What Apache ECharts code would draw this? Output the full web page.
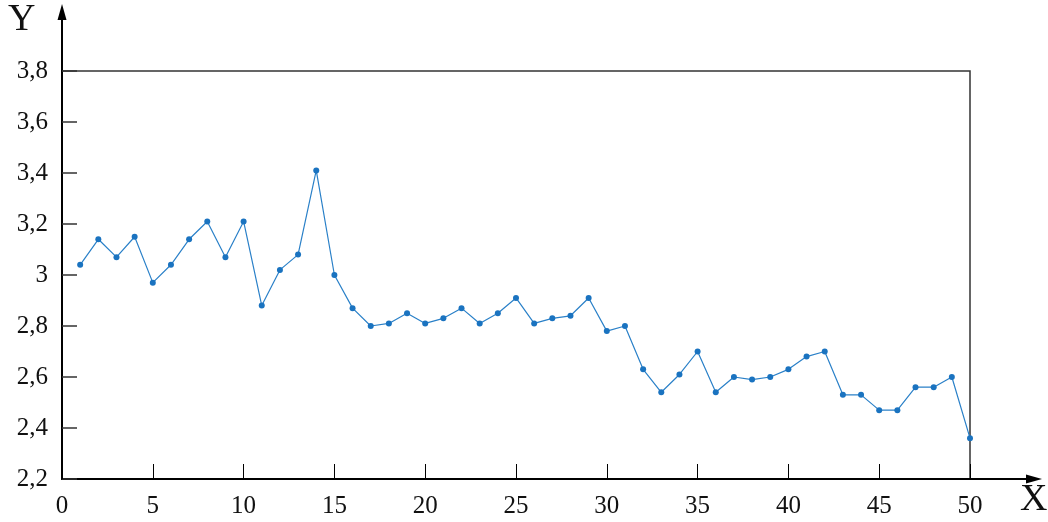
<!DOCTYPE html>
<html>
<head>
<meta charset="utf-8">
<script src="https://cdn.jsdelivr.net/npm/echarts@6/dist/echarts.min.js"></script>
<style>
  html, body { margin: 0; padding: 0; background: #fff; }
  #chart { width: 1048px; height: 522px; }
</style>
</head>
<body>
<div id="chart"></div>
<script>
// Measured values, x = 1..50
const xValues = [1,2,3,4,5,6,7,8,9,10,11,12,13,14,15,16,17,18,19,20,21,22,23,24,25,
                 26,27,28,29,30,31,32,33,34,35,36,37,38,39,40,41,42,43,44,45,46,47,48,49,50];
const yValues = [3.04,3.14,3.07,3.15,2.97,3.04,3.14,3.21,3.07,3.21,
                 2.88,3.02,3.08,3.41,3.00,2.87,2.80,2.81,2.85,2.81,
                 2.83,2.87,2.81,2.85,2.91,2.81,2.83,2.84,2.91,2.78,
                 2.80,2.63,2.54,2.61,2.70,2.54,2.60,2.59,2.60,2.63,
                 2.68,2.70,2.53,2.53,2.47,2.47,2.56,2.56,2.60,2.36];
const xTicks = [0,5,10,15,20,25,30,35,40,45,50];
const yTicks = [2.2,2.4,2.6,2.8,3.0,3.2,3.4,3.6,3.8];

const FONT = 'Liberation Serif';
const fmtY = v => {
  const r = Math.round(v * 10) / 10;
  return Number.isInteger(r) ? String(r) : r.toFixed(1).replace('.', ',');
};

const chart = echarts.init(document.getElementById('chart'), null, { renderer: 'canvas' });

chart.setOption({
  animation: false,
  grid: {
    left: 62, right: 78, top: 71, bottom: 43,
    show: true, borderColor: '#333', borderWidth: 1.5, backgroundColor: 'transparent'
  },
  xAxis: {
    type: 'value', min: xTicks[0], max: xTicks[xTicks.length - 1], interval: 5,
    axisLine: { show: true, onZero: false, lineStyle: { color: '#000', width: 2 } },
    axisTick: { show: true, inside: true, length: 15, lineStyle: { color: '#000', width: 1 } },
    axisLabel: { color: '#111', fontFamily: FONT, fontSize: 25, margin: 15 },
    splitLine: { show: false }
  },
  yAxis: {
    type: 'value', min: yTicks[0], max: yTicks[yTicks.length - 1], interval: 0.2,
    axisLine: { show: true, onZero: false, lineStyle: { color: '#000', width: 2 } },
    axisTick: { show: true, inside: true, length: 15, lineStyle: { color: '#333', width: 1.5 } },
    axisLabel: { color: '#111', fontFamily: FONT, fontSize: 25, margin: 14, formatter: fmtY },
    splitLine: { show: false }
  },
  series: [{
    type: 'line',
    data: xValues.map((x, i) => [x, yValues[i]]),
    symbol: 'circle', symbolSize: 6,
    lineStyle: { color: '#2a80c8', width: 1.2 },
    itemStyle: { color: '#1a73c0' }
  }]
});

// Axis extensions with arrowheads and the axis names
const origin = chart.convertToPixel({ gridIndex: 0 }, [xTicks[0], yTicks[0]]);
const corner = chart.convertToPixel({ gridIndex: 0 }, [xTicks[xTicks.length - 1], yTicks[yTicks.length - 1]]);
const yTop = 4, xEnd = 1042;
chart.setOption({
  graphic: [
    { type: 'line', shape: { x1: origin[0], y1: corner[1], x2: origin[0], y2: yTop + 14 },
      style: { stroke: '#000', lineWidth: 2 } },
    { type: 'polygon', shape: { points: [[origin[0], yTop], [origin[0] - 4.5, yTop + 16], [origin[0] + 4.5, yTop + 16]] },
      style: { fill: '#000' } },
    { type: 'line', shape: { x1: corner[0], y1: origin[1], x2: xEnd - 14, y2: origin[1] },
      style: { stroke: '#000', lineWidth: 2 } },
    { type: 'polygon', shape: { points: [[xEnd, origin[1]], [xEnd - 16, origin[1] - 4.5], [xEnd - 16, origin[1] + 4.5]] },
      style: { fill: '#000' } },
    { type: 'text', left: 8, top: 1,
      style: { text: 'Y', font: '38px "' + FONT + '"', fill: '#111' } },
    { type: 'text', left: 1020, top: 481,
      style: { text: 'X', font: '38px "' + FONT + '"', fill: '#111' } }
  ]
});
</script>
</body>
</html>
